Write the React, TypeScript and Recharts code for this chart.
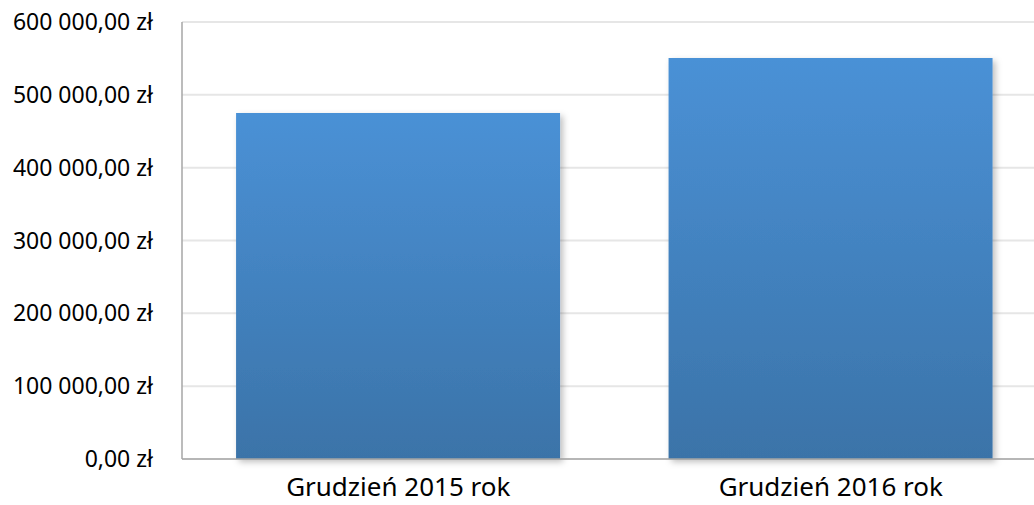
import { BarChart, Bar, XAxis, YAxis, CartesianGrid } from 'recharts'

const okresy = ['Grudzień 2015 rok', 'Grudzień 2016 rok']
const kwoty = [475000, 550500]
const ticksY = [0, 100000, 200000, 300000, 400000, 500000, 600000]

const dane = okresy.map((okres, i) => ({ okres, kwota: kwoty[i] }))

// "600 000,00 zł"
function formatZl(v: number) {
  const [calk, dzies] = v.toFixed(2).split('.')
  const grupy = calk.replace(/\B(?=(\d{3})+(?!\d))/g, ' ')
  return `${grupy},${dzies} zł`
}

const font = '"Noto Sans", "Open Sans", sans-serif'

export default function App() {
  return (
    <div style={{ position: 'absolute', left: 0, top: 0, width: 1034, height: 505, overflow: 'hidden', background: '#fff' }}>
      <BarChart
        width={1047}
        height={505}
        data={dane}
        margin={{ top: 22, right: 0, left: 0, bottom: 0 }}
        barCategoryGap="12.5%"
      >
        <defs>
          <linearGradient id="gradSlupek" x1="0" y1="0" x2="0" y2="1">
            <stop offset="0%" stopColor="#4a91d6" />
            <stop offset="100%" stopColor="#3b73a8" />
          </linearGradient>
          <filter id="cien" x="-5%" y="-5%" width="115%" height="115%">
            <feDropShadow dx="3" dy="3" stdDeviation="3" floodColor="#000" floodOpacity="0.25" />
          </filter>
        </defs>
        <CartesianGrid vertical={false} stroke="#e6e6e6" strokeWidth={2} />
        <XAxis
          dataKey="okres"
          height={46}
          tickSize={0}
          tickMargin={19}
          axisLine={{ stroke: '#a6a6a6', strokeWidth: 1.5 }}
          tickLine={false}
          tick={{ fontSize: 26, fill: '#000', fontFamily: font }}
        />
        <YAxis
          width={182}
          domain={[0, 600000]}
          ticks={ticksY}
          tickFormatter={formatZl}
          tickSize={0}
          tickMargin={29}
          axisLine={{ stroke: '#a6a6a6', strokeWidth: 1.5 }}
          tickLine={false}
          tick={{ fontSize: 23, fill: '#000', fontFamily: font }}
        />
        <Bar dataKey="kwota" fill="url(#gradSlupek)" filter="url(#cien)" isAnimationActive={false} />
      </BarChart>
    </div>
  )
}
